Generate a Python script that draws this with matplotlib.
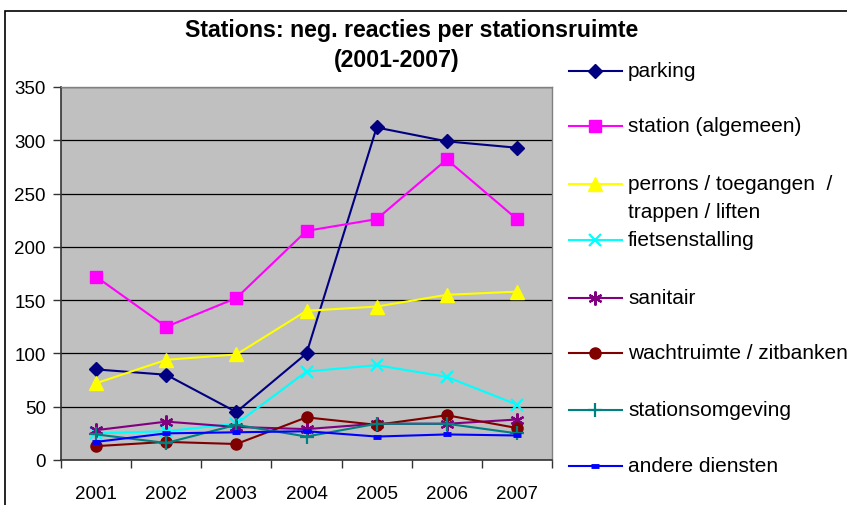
import matplotlib
matplotlib.use("Agg")
import matplotlib.pyplot as plt
from matplotlib.lines import Line2D
from matplotlib.patches import Rectangle
import numpy as np

plt.rcParams['font.family'] = ['Liberation Sans', 'DejaVu Sans']

years = ['2001', '2002', '2003', '2004', '2005', '2006', '2007']

parking = [85, 80, 45, 100, 312, 299, 293]
station_algemeen = [172, 125, 152, 215, 226, 282, 226]
perrons = [72, 94, 99, 140, 144, 155, 158]
fietsenstalling = [25, 27, 34, 83, 89, 78, 52]
sanitair = [28, 36, 31, 29, 34, 34, 38]
wachtruimte = [13, 17, 15, 40, 33, 42, 30]
stationsomgeving = [24, 16, 33, 22, 34, 34, 25]
andere_diensten = [17, 25, 26, 27, 22, 24, 23]

labels = ['parking', 'station (algemeen)', 'perrons / toegangen  /\ntrappen / liften',
          'fietsenstalling', 'sanitair', 'wachtruimte / zitbanken',
          'stationsomgeving', 'andere diensten']
series = [parking, station_algemeen, perrons, fietsenstalling,
          sanitair, wachtruimte, stationsomgeving, andere_diensten]

# line colour, marker, marker size, marker edge width
styles = [
    ('#000080', 'D', 7, 1),
    ('#FF00FF', 's', 8, 1),
    ('#FFFF00', '^', 10, 1),
    ('#00FFFF', 'x', 9, 1.6),
    ('#800080', (6, 2, 0), 10, 1.6),
    ('#800000', 'o', 8, 1),
    ('#008080', '+', 10, 1.6),
    ('#0000FF', '_', 6, 3.5),
]

W, H = 847, 506
fig = plt.figure(figsize=(W / 100, H / 100), dpi=100)

# outer chart frame
fig.patches.append(Rectangle((5 / W, -0.2), 1.2, 1 - 12 / H + 0.2,
                             transform=fig.transFigure, fill=False,
                             edgecolor='black', linewidth=1.2))

ax = fig.add_axes([61 / W, 1 - 461 / H, (552 - 61) / W, (461 - 88) / H])
ax.set_facecolor('#C0C0C0')

x = np.arange(len(years))
for vals, (col, mk, ms, mew) in zip(series, styles):
    ax.plot(x, vals, color=col, marker=mk, markersize=ms, markeredgewidth=mew,
            markeredgecolor=col, markerfacecolor=col, linewidth=1.5, zorder=3)

ax.set_xlim(-0.5, 6.5)
ax.set_ylim(0, 350)
ax.set_yticks(range(0, 351, 50))
ax.yaxis.grid(True, color='black', linewidth=0.9)
ax.set_axisbelow(True)

ax.set_xticks(x)
ax.set_xticklabels(years)
ax.set_xticks(np.arange(-0.5, 7, 1), minor=True)
ax.tick_params(axis='x', which='major', length=0, pad=18, labelsize=13.5)
ax.tick_params(axis='x', which='minor', length=6, width=1, color='#333333')
ax.tick_params(axis='y', length=6, width=1, color='#333333', pad=5, labelsize=13.5)

for s in ['top', 'right']:
    ax.spines[s].set_color('#808080')
    ax.spines[s].set_linewidth(1)
for s in ['left', 'bottom']:
    ax.spines[s].set_color('#333333')
    ax.spines[s].set_linewidth(1.2)

fig.text(412 / W, 1 - 31 / H, 'Stations: neg. reacties per stationsruimte',
         ha='center', va='center', fontsize=16.7, fontweight='bold')
fig.text(397 / W, 1 - 61 / H, '(2001-2007)',
         ha='center', va='center', fontsize=16.7, fontweight='bold')

# legend drawn by hand so the two-line entry sits on its first line
legend_y = [72, 127, 185, 241, 299, 354, 411, 467]
for lab, ly, (col, mk, ms, mew) in zip(labels, legend_y, styles):
    yf = 1 - ly / H
    fig.add_artist(Line2D([569 / W, 622 / W], [yf, yf], transform=fig.transFigure,
                          color=col, linewidth=1.5))
    fig.add_artist(Line2D([595 / W], [yf], transform=fig.transFigure,
                          marker=mk, markersize=ms, markeredgewidth=mew,
                          color=col, markerfacecolor=col, markeredgecolor=col))
    fig.text(628 / W, yf + 10 / H, lab, ha='left', va='top', fontsize=15,
             linespacing=1.6)

fig.savefig('out.png', dpi=100)
